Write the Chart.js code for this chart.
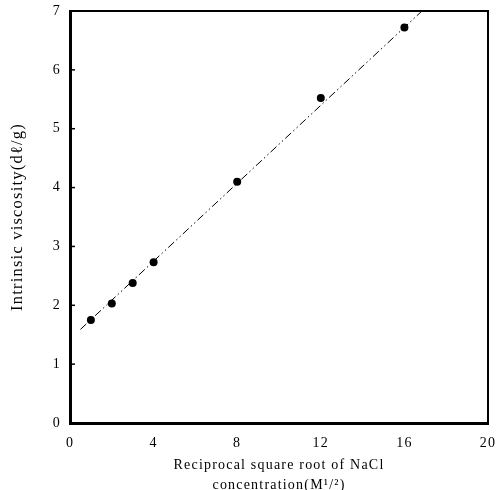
<!DOCTYPE html>
<html>
<head>
<meta charset="utf-8">
<script src="https://cdn.jsdelivr.net/npm/chart.js@4"></script>
<style>
html,body{margin:0;padding:0;background:#fff;}
#wrap{width:496px;height:490px;}
</style>
</head>
<body>
<div id="wrap"><canvas id="c" width="496" height="490"></canvas></div>
<script>
// Data
const concRecipSqrt = [1, 2, 3, 4, 8, 12, 16];
const intrinsicViscosity = [1.75, 2.03, 2.38, 2.73, 4.10, 5.52, 6.72];
const fitLineX = [0.5, 16.9];
const fitLineY = [1.59, 7.02];
const xTicks = [0, 4, 8, 12, 16, 20];
const yTicks = [0, 1, 2, 3, 4, 5, 6, 7];
const xTitle = ['Reciprocal square root of NaCl', 'concentration(M\u00B9/\u00B2)'];
const yTitle = 'Intrinsic viscosity(d\u2113/g)';

const serif = '"Liberation Serif", "DejaVu Serif", serif';

const spacingPlugin = {
  id: 'spacing',
  beforeDraw(chart) { try { chart.ctx.letterSpacing = '1.2px'; } catch (e) {} }
};

const framePlugin = {
  id: 'frame',
  afterDatasetsDraw(chart) {
    const {ctx, chartArea: a, scales} = chart;
    ctx.save();
    ctx.strokeStyle = '#000';
    ctx.lineWidth = 2;
    ctx.beginPath();
    ctx.moveTo(a.left, a.top);
    ctx.lineTo(a.right, a.top);
    ctx.lineTo(a.right, a.bottom);
    ctx.stroke();
    ctx.lineWidth = 1.5;
    yTicks.forEach(v => {
      const py = scales.y.getPixelForValue(v);
      ctx.beginPath();
      ctx.moveTo(a.left, py);
      ctx.lineTo(a.left + 5, py);
      ctx.stroke();
    });
    ctx.restore();
  }
};

new Chart(document.getElementById('c'), {
  type: 'scatter',
  data: {
    datasets: [
      {
        data: fitLineX.map((x, i) => ({x, y: fitLineY[i]})),
        showLine: true,
        borderColor: '#000',
        borderWidth: 1,
        borderDash: [8, 3, 1.5, 3, 1.5, 3],
        pointRadius: 0,
        fill: false
      },
      {
        data: concRecipSqrt.map((x, i) => ({x, y: intrinsicViscosity[i]})),
        backgroundColor: '#000',
        borderColor: '#000',
        pointRadius: 4,
        borderWidth: 0,
        showLine: false
      }
    ]
  },
  options: {
    responsive: false,
    animation: false,
    devicePixelRatio: 1,
    layout: {padding: {top: 11, right: 8, left: 0, bottom: 0}},
    plugins: {legend: {display: false}, tooltip: {enabled: false}},
    scales: {
      x: {
        type: 'linear',
        min: 0, max: 20,
        afterBuildTicks: s => { s.ticks = xTicks.map(v => ({value: v})); },
        afterFit: s => { s.height = 67; s.paddingLeft = 0; s.paddingRight = 0; },
        grid: {display: false, drawTicks: false},
        border: {display: true, color: '#000', width: 3},
        ticks: {color: '#000', padding: 12, font: {family: serif, size: 14}},
        title: {
          display: true,
          text: xTitle,
          color: '#000',
          font: {family: serif, size: 14, lineHeight: '20px'},
          padding: {top: 0, bottom: -5}
        }
      },
      y: {
        type: 'linear',
        min: 0, max: 7,
        afterBuildTicks: s => { s.ticks = yTicks.map(v => ({value: v})); },
        afterFit: s => { s.width = 70; s.paddingTop = 0; s.paddingBottom = 0; },
        grid: {display: false, drawTicks: false},
        border: {display: true, color: '#000', width: 3},
        ticks: {color: '#000', padding: 9, font: {family: serif, size: 14}},
        title: {
          display: true,
          text: yTitle,
          color: '#000',
          font: {family: serif, size: 16.5, lineHeight: '18px'},
          padding: {top: 9, bottom: 0}
        }
      }
    }
  },
  plugins: [spacingPlugin, framePlugin]
});
</script>
</body>
</html>
